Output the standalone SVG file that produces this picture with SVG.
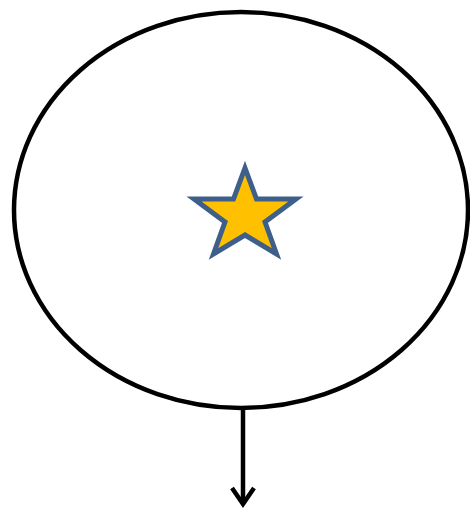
<svg xmlns="http://www.w3.org/2000/svg" width="470" height="509" viewBox="0 0 470 509">
<style>
.outline{fill:none;stroke:#000;stroke-width:4.5}
.star{fill:#FFC000;stroke:#3E5F8A;stroke-width:5;stroke-linejoin:miter}
.conn{fill:none;stroke:#000;stroke-width:4.5}
</style>
<g id="ellipse-node">
<ellipse class="outline" cx="241" cy="210" rx="227" ry="198"/>
</g>
<g id="star-node">
<polygon class="star" points="245,168 256.5,199 296,199 265,222 276.5,254 245,235 213.5,254 225,222 194,199 233.5,199"/>
</g>
<g id="connectors">
<line class="conn" x1="243" y1="408" x2="243" y2="504"/>
<polyline class="conn" points="232,488 243,504 254,488"/>
</g>
</svg>
